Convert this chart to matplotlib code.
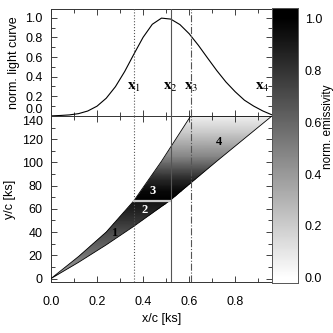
import numpy as np
import matplotlib
matplotlib.use('Agg')
import matplotlib.pyplot as plt
from matplotlib.patches import Polygon
from matplotlib.ticker import MultipleLocator

# light curve
lc_x = [0.00, 0.04, 0.08, 0.12, 0.16, 0.20, 0.24, 0.28, 0.32, 0.36, 0.40, 0.44, 0.48,
        0.52, 0.56, 0.60, 0.64, 0.68, 0.72, 0.76, 0.80, 0.84, 0.88, 0.92, 0.96]
lc_y = [0.000, 0.004, 0.010, 0.023, 0.050, 0.099, 0.180, 0.298, 0.452, 0.629, 0.801, 0.934, 0.997,
        0.987, 0.931, 0.838, 0.720, 0.590, 0.462, 0.345, 0.246, 0.160, 0.100, 0.050, 0.010]

# edges of the emitting band in the x/c - y/c plane
upper_x = [0.0, 0.12, 0.24, 0.36, 0.48, 0.607]
upper_y = [0, 19, 40, 67, 101, 140]
lower_x = [0.0, 0.12, 0.24, 0.36, 0.515, 0.72, 0.96]
lower_y = [0, 14, 29, 45, 67, 101, 140]

# normalised emissivity along y/c
emis_y = [0, 10, 20, 30, 40, 50, 60, 67, 67.5, 75, 85, 95, 105, 115, 125, 140]
emis_v = [0.35, 0.45, 0.55, 0.63, 0.70, 0.80, 0.88, 0.92, 1.0, 0.97, 0.85, 0.67, 0.48, 0.35, 0.22, 0.06]

x_lines = [0.36, 0.52, 0.607]
x_styles = [':', '-', '-.']
x_names = ['1', '2', '3', '4']
x_name_pos = [0.36, 0.52, 0.607, 0.92]

split_y = 67
split_x = [0.36, 0.515]

reg_names = ['1', '2', '3', '4']
reg_x = [0.275, 0.408, 0.443, 0.73]
reg_y = [39, 59, 75, 117.5]
reg_col = ['black', 'white', 'white', 'black']

lc_ticks = [0.0, 0.2, 0.4, 0.6, 0.8, 1.0]
y_ticks = [0, 20, 40, 60, 80, 100, 120, 140]
cb_ticks = [0.0, 0.2, 0.4, 0.6, 0.8, 1.0]

plt.rcParams['font.family'] = ['Liberation Sans', 'DejaVu Sans']
plt.rcParams['font.size'] = 9
plt.rcParams['mathtext.fontset'] = 'stix'

fig = plt.figure(figsize=(3.33, 3.33), dpi=100)
ax_lc = fig.add_axes([0.153, 0.652, 0.664, 0.321])
ax = fig.add_axes([0.153, 0.153, 0.664, 0.499])
cax = fig.add_axes([0.817, 0.150, 0.078, 0.826])

for a in (ax_lc, ax):
    a.set_xlim(0, 0.96)
    a.xaxis.set_major_locator(MultipleLocator(0.2))
    a.xaxis.set_minor_locator(MultipleLocator(0.1))
    a.tick_params(which='both', direction='in', top=True, right=True, width=0.6, color='#222222')
    a.tick_params(which='major', length=4)
    a.tick_params(which='minor', length=3)
    a.tick_params(axis='y', pad=6)
    a.tick_params(axis='x', pad=10)
    for s in a.spines.values():
        s.set_linewidth(0.7)
        s.set_color('#333333')
    for xl, ls in zip(x_lines, x_styles):
        a.axvline(xl, color='#555555', lw=0.8, ls=ls, zorder=4)

# top panel: light curve
ax_lc.plot(lc_x, lc_y, color='black', lw=0.8)
ax_lc.set_ylim(0, 1.09)
ax_lc.set_yticks(lc_ticks)
ax_lc.set_yticklabels(['%.1f' % t for t in lc_ticks])
ax_lc.yaxis.set_minor_locator(MultipleLocator(0.1))
ax_lc.tick_params(labelbottom=False)
ax_lc.set_ylabel('norm. light curve', labelpad=4)
for xp, nm in zip(x_name_pos, x_names):
    ax_lc.text(xp, 0.29, r'$\mathbf{x}_{' + nm + '}$', ha='center', va='center', fontsize=11)

# bottom panel: emissivity map clipped to the band
C = np.column_stack([emis_v, emis_v])
mesh = ax.pcolormesh([0, 0.96], emis_y, C, shading='gouraud', cmap='gray_r', vmin=0, vmax=1)
band = Polygon(list(zip(upper_x, upper_y)) + list(zip(lower_x[::-1], lower_y[::-1])),
               closed=True, facecolor='none', edgecolor='black', lw=0.6, zorder=3)
ax.add_patch(band)
mesh.set_clip_path(band)
ax.plot(split_x, [split_y, split_y], color='#cccccc', lw=1.6, zorder=3)
for nm, xx, yy, cc in zip(reg_names, reg_x, reg_y, reg_col):
    ax.text(xx, yy, nm, color=cc, ha='center', va='center', fontsize=9,
            family='Liberation Serif', weight='bold', zorder=5)

ax.set_ylim(-3, 140)
ax.set_yticks(y_ticks)
ax.set_yticklabels([str(t) for t in y_ticks])
ax.yaxis.set_minor_locator(MultipleLocator(10))
ax.set_xlabel('x/c [ks]', labelpad=4)
ax.set_ylabel('y/c [ks]', labelpad=4)

# keep the shared edge labels apart
ax_lc.get_yticklabels()[0].set_verticalalignment('bottom')
ax.get_yticklabels()[-1].set_verticalalignment('top')

# colour bar
grad = np.linspace(-0.02, 1.04, 300).reshape(-1, 1)
cax.imshow(grad, extent=[0, 1, -0.02, 1.04], origin='lower', aspect='auto',
           cmap='gray_r', vmin=0, vmax=1)
cax.set_xlim(0, 1)
cax.set_ylim(-0.02, 1.04)
cax.set_xticks([])
cax.yaxis.tick_right()
cax.set_yticks(cb_ticks)
cax.set_yticklabels(['%.1f' % t for t in cb_ticks])
cax.tick_params(axis='y', length=0, pad=5)
for s in cax.spines.values():
    s.set_linewidth(0.7)
    s.set_color('#555555')
fig.text(0.985, 0.62, 'norm. emissivity', rotation=90, ha='center', va='center', fontsize=8.5)

fig.savefig('out.png', dpi=100)
